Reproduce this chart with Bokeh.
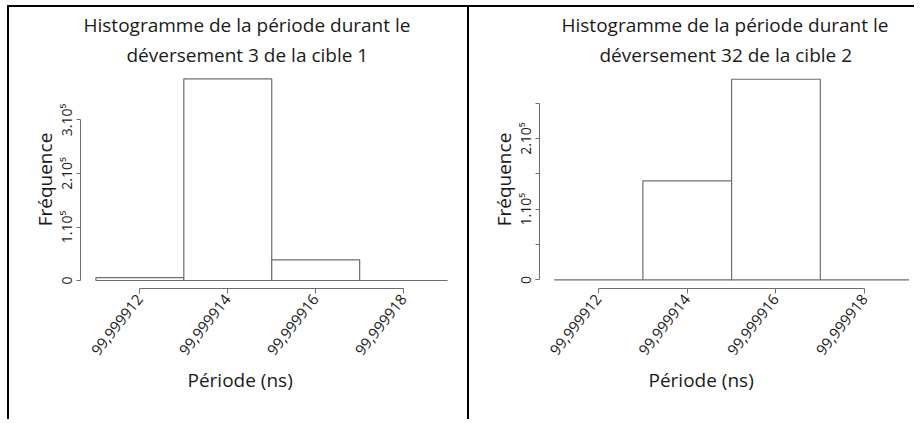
from bokeh.plotting import figure
from bokeh.layouts import row
from bokeh.models import Range1d, FixedTicker, CustomJSTickFormatter, Title
from bokeh.embed import file_html
from bokeh.resources import INLINE

# ---- data ----
bin_edges = [99.999911, 99.999913, 99.999915, 99.999917, 99.999919]
counts_1 = [5500, 377000, 38500, 0]
counts_2 = [0, 140000, 284000, 0]
x_ticks = [99.999912, 99.999914, 99.999916, 99.999918]
y_ticks_1 = [0, 100000, 200000, 300000]
y_ticks_2 = [0, 50000, 100000, 150000, 200000, 250000]
titles_1 = ["Histogramme de la période durant le", "déversement 3 de la cible 1"]
titles_2 = ["Histogramme de la période durant le", "déversement 32 de la cible 2"]
x_label = "Période (ns)"
y_label = "Fréquence"

FONT = "Open Sans"
GREY = "#6e6e6e"
TXT = "#1a1a1a"


def make(title_lines, title_offsets, xlab_offset, counts, y_ticks, width, height,
         xr, yr, ybounds, mb_left, mb_right, mb_top, mb_bottom):
    p = figure(width=width, height=height, output_backend="svg", toolbar_location=None,
               x_range=Range1d(*xr), y_range=Range1d(*yr),
               min_border_left=mb_left, min_border_right=mb_right,
               min_border_top=mb_top, min_border_bottom=mb_bottom)
    p.quad(left=bin_edges[:-1], right=bin_edges[1:], top=counts, bottom=0,
           fill_color="white", line_color=GREY, line_width=1.2)
    p.grid.visible = False
    p.outline_line_color = None
    p.background_fill_color = "white"
    p.border_fill_color = "white"
    p.title.visible = False
    # titles: second line first (closest to the frame), then first line
    standoffs = [-2, 6]
    for txt, off, so in list(zip(title_lines, title_offsets, standoffs))[::-1]:
        t = Title(text=txt, align="left", offset=off, text_font=FONT,
                  text_font_size="19px", text_font_style="normal",
                  text_color=TXT, standoff=so)
        p.add_layout(t, "above")
    # x axis label as a title below the axis
    p.add_layout(Title(text=x_label, align="left", offset=xlab_offset, text_font=FONT,
                       text_font_size="19px", text_font_style="normal",
                       text_color=TXT, standoff=4), "below")

    xa = p.xaxis[0]
    xa.ticker = FixedTicker(ticks=x_ticks, minor_ticks=[])
    xa.formatter = CustomJSTickFormatter(code="return tick.toFixed(6).replace('.', ',');")
    xa.bounds = (x_ticks[0], x_ticks[-1])
    xa.major_label_orientation = 0.9
    ya = p.yaxis[0]
    ya.ticker = FixedTicker(ticks=y_ticks, minor_ticks=[])
    ya.formatter = CustomJSTickFormatter(code="""
        if (tick == 0) return '0';
        if (tick % 100000 != 0) return '';
        return (tick / 100000).toFixed(0) + '.10\u2075';""")
    ya.bounds = ybounds
    ya.major_label_orientation = "vertical"
    ya.axis_label = y_label
    for a in (xa, ya):
        a.axis_line_color = GREY
        a.major_tick_line_color = GREY
        a.major_tick_in = 0
        a.minor_tick_line_color = None
        a.major_label_text_font = FONT
        a.major_label_text_color = TXT
        a.axis_label_text_font = FONT
        a.axis_label_text_font_style = "normal"
        a.axis_label_text_color = TXT
    xa.major_tick_out = 5
    ya.major_tick_out = 4
    xa.major_label_text_font_size = "15px"
    ya.major_label_text_font_size = "14px"
    ya.axis_label_text_font_size = "19px"
    xa.major_label_standoff = 3
    ya.major_label_standoff = 0
    ya.axis_label_standoff = -3
    p.styles = {"border-top": "2px solid black", "border-left": "2px solid black"}
    return p


p1 = make(titles_1, [3, 46], 107, counts_1, y_ticks_1, 460, 414,
          (99.99991065, 99.99991918), (-14953, 392523), (0, 300000), 71, 14, 63, 133)
p2 = make(titles_2, [22, 60], 109, counts_2, y_ticks_2, 447, 414,
          (99.99991067, 99.99991901), (-12202, 296353), (0, 250000), 70, 7, 63, 131)

layout = row(p1, p2, styles={"margin-left": "7px", "margin-top": "5px"})
open("out.html", "w").write(file_html(layout, INLINE))
